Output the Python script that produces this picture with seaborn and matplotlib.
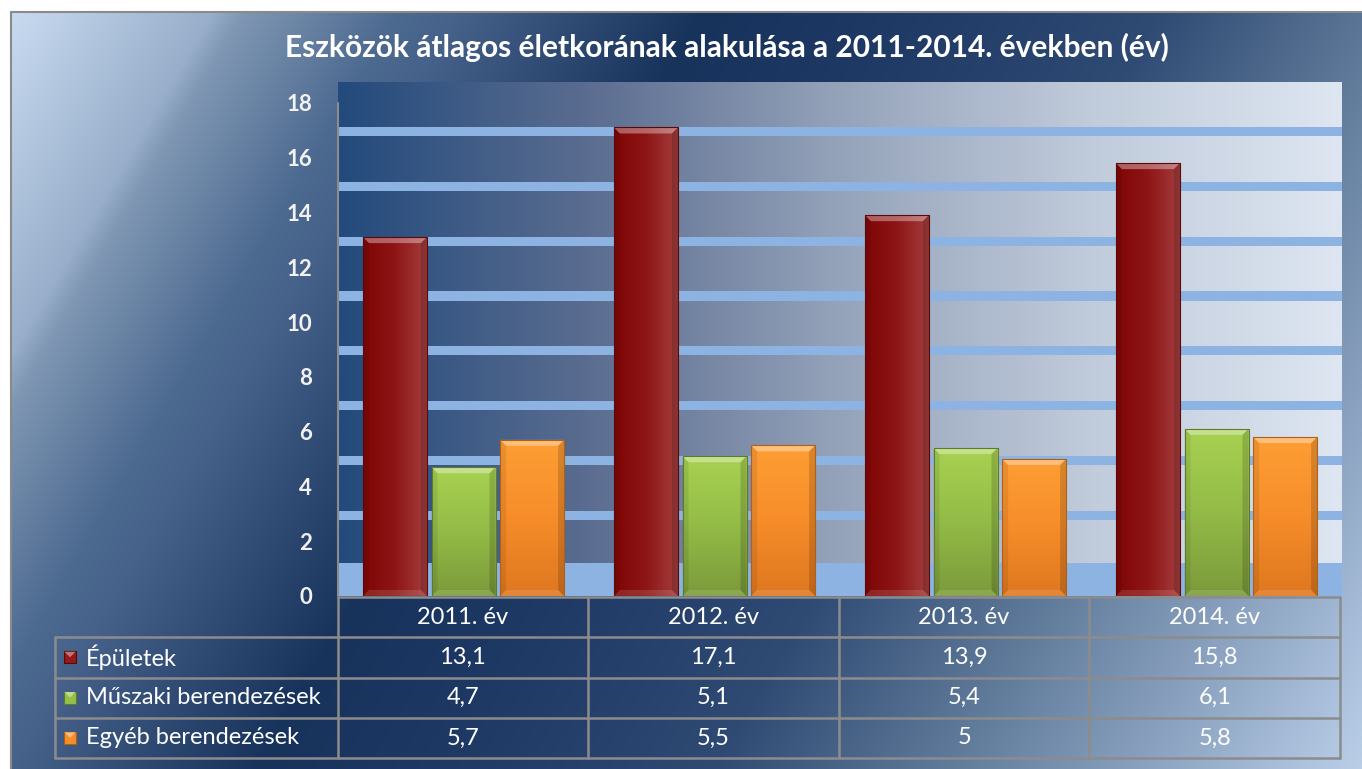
import numpy as np
import pandas as pd
import matplotlib
matplotlib.use("Agg")
import matplotlib.pyplot as plt
import seaborn as sns
from matplotlib.patches import Rectangle, Polygon
from matplotlib.colors import to_rgb

# ---------------- data ----------------
title = "Eszközök átlagos életkorának alakulása a 2011-2014. években (év)"
years = ["2011. év", "2012. év", "2013. év", "2014. év"]
series = ["Épületek", "Műszaki berendezések", "Egyéb berendezések"]
epuletek = [13.1, 17.1, 13.9, 15.8]
muszaki = [4.7, 5.1, 5.4, 6.1]
egyeb = [5.7, 5.5, 5.0, 5.8]
yticks = list(range(0, 19, 2))

values = [epuletek, muszaki, egyeb]
colors = {"Épületek": "#921a1a", "Műszaki berendezések": "#94bf48", "Egyéb berendezések": "#f58e2a"}

W, H = 1362, 769

sns.set_style("white")
plt.rcParams["font.family"] = ["Lato", "DejaVu Sans"]

fig = plt.figure(figsize=(W / 100, H / 100), dpi=100)
fig.patch.set_facecolor("white")

# ---------------- background gradient ----------------
bg = fig.add_axes([0, 0, 1, 1], zorder=-10)
bg.set_axis_off()
Yg, Xg = np.mgrid[0:H, 0:W] + 0.5
P = (680 * Xg + 400 * Yg) / 789.0
sp = [0, 190, 216, 350, 400, 613, 800, 1006, 1184, 1484, 1600]
sc = ["#cddff4", "#98aeca", "#7f97b3", "#4c6990", "#46628a", "#17325b",
      "#1f3b66", "#2f4b74", "#5a7595", "#a6bcd8", "#c4d7ef"]
img = np.stack([np.interp(P, sp, [to_rgb(c)[k] for c in sc]) for k in range(3)], axis=-1)
img[:11, :, :] = 1
img[:, :10, :] = 1
bg.imshow(img, extent=(0, W, H, 0), aspect="auto", interpolation="nearest")
bg.set_xlim(0, W)
bg.set_ylim(H, 0)
bg.plot([10.5, 10.5, W], [H, 11.5, 11.5], color="#8a8a8a", lw=1.5)

# ---------------- main bar chart ----------------
ytop = 18.76
ax = fig.add_axes([338 / W, 1 - 596 / H, (1342 - 338) / W, (596 - 82) / H])
df = pd.DataFrame({
    "year": years * len(series),
    "series": np.repeat(series, len(years)),
    "value": epuletek + muszaki + egyeb,
})
sns.barplot(data=df, x="year", y="value", hue="series", hue_order=series,
            palette=colors, width=0.82, saturation=1, legend=False,
            errorbar=None, ax=ax)
bars = list(ax.patches)

# plot-area gradient
pa_stops = [0, 0.25, 0.5, 0.75, 1.0]
pa_cols = ["#234a7c", "#5b6d90", "#95a3ba", "#c0cbdb", "#dde6f1"]
tt = np.linspace(0, 1, 512)
pa = np.stack([np.interp(tt, pa_stops, [to_rgb(c)[k] for c in pa_cols]) for k in range(3)], axis=-1)[None, :, :]
ax.imshow(pa, extent=(-0.5, len(years) - 0.5, 0, ytop), aspect="auto", zorder=0)

band = "#8db3e2"
ax.axhspan(0, 1.2, color=band, lw=0, zorder=1)
for t in yticks[1:]:
    ax.axhspan(t - 1.05 - 0.17, t - 1.05 + 0.17, color=band, lw=0, zorder=1)

grad_defs = {
    "Épületek": ("h", ["#800606", "#8e1515", "#a43e3e"], "#5a0808"),
    "Műszaki berendezések": ("v", ["#a8d251", "#93bb47", "#7b9a3a"], "#5e7a2e"),
    "Egyéb berendezések": ("v", ["#fe9e34", "#f68d2a", "#de771f"], "#b06016"),
}
bw = 64 / 251.0
bx = 6 / 251.0
by = 6 / 27.4

def find_series(p):
    fc = np.array(p.get_facecolor()[:3])
    return min(series, key=lambda s: np.sum((np.array(to_rgb(colors[s])) - fc) ** 2))

for p in bars:
    s = find_series(p)
    x0 = p.get_x() + (p.get_width() - bw) / 2
    p.set_x(x0)
    p.set_width(bw)
    h = p.get_height()
    x1 = x0 + bw
    kind, gc, edge = grad_defs[s]
    g = np.linspace(0, 1, 256)
    st = np.linspace(0, 1, len(gc))
    arr = np.stack([np.interp(g, st, [to_rgb(c)[k] for c in gc]) for k in range(3)], axis=-1)
    arr = arr[None, :, :] if kind == "h" else arr[:, None, :]
    im = ax.imshow(arr, extent=(x0, x1, 0, h), aspect="auto", zorder=3.1, interpolation="bilinear")
    im.set_clip_path(p)
    ax.add_patch(Polygon([(x0, h), (x1, h), (x1 - bx, h - by), (x0 + bx, h - by)],
                         closed=True, facecolor="white", alpha=0.35, lw=0, zorder=3.2))
    ax.add_patch(Polygon([(x0, 0), (x1, 0), (x1 - bx, by), (x0 + bx, by)],
                         closed=True, facecolor="white", alpha=0.12, lw=0, zorder=3.2))
    ax.add_patch(Polygon([(x0, 0), (x0, h), (x0 + bx, h - by), (x0 + bx, by)],
                         closed=True, facecolor="black", alpha=0.08, lw=0, zorder=3.2))
    ax.add_patch(Polygon([(x1, 0), (x1, h), (x1 - bx, h - by), (x1 - bx, by)],
                         closed=True, facecolor="black", alpha=0.15, lw=0, zorder=3.2))
    p.set_facecolor("none")
    p.set_edgecolor(edge)
    p.set_linewidth(0.8)
    p.set_zorder(3.3)

ax.set_xlim(-0.5, len(years) - 0.5)
ax.set_ylim(0, ytop)
ax.set_yticks(yticks)
ax.set_yticklabels([str(t) for t in yticks], fontweight="bold", color="#f2f2f2", fontsize=16)
ax.tick_params(axis="y", length=0, pad=18.5)
ax.set_xticks([])
ax.set_xlabel("")
ax.set_ylabel("")
ax.set_facecolor("none")
for sp_ in ax.spines.values():
    sp_.set_visible(False)
ax.plot([-0.5, -0.5], [0, 18], color="#8c8c8c", lw=1.5, clip_on=False, zorder=5)

# ---------------- data table ----------------
ncol = len(years)
lu = 283 / 251.0
left = -0.5 - lu
tax = fig.add_axes([55 / W, 1 - 758 / H, (1340 - 55) / W, (758 - 597) / H])
tax.set_xlim(left, ncol - 0.5)
tax.set_ylim(4, 0)
tax.set_axis_off()
lc = "#8c8c8c"
tax.plot([-0.5, ncol - 0.5], [0, 0], color=lc, lw=1.8, clip_on=False)
for r in range(1, 5):
    tax.plot([left, ncol - 0.5], [r, r], color=lc, lw=1.8, clip_on=False)
for c in range(ncol + 1):
    tax.plot([c - 0.5, c - 0.5], [0, 4], color=lc, lw=1.8, clip_on=False)
tax.plot([left, left], [1, 4], color=lc, lw=1.8, clip_on=False)

fs = 17
for i, y in enumerate(years):
    tax.text(i, 0.5, y, ha="center", va="center", color="white", fontsize=fs)

kw = 12 / 251.0
for j, s in enumerate(series):
    yc = j + 1.5
    kx = left + 9 / 251.0
    base = colors[s]
    tax.add_patch(Rectangle((kx, yc - 0.15), kw, 0.3, facecolor=base,
                            edgecolor=grad_defs[s][2], lw=0.8, clip_on=False))
    light = tuple(min(1, v * 0.6 + 0.4) for v in to_rgb(base))
    tax.add_patch(Polygon([(kx + 0.002, yc - 0.14), (kx + kw - 0.002, yc - 0.14), (kx + kw / 2, yc)],
                          closed=True, facecolor=light, lw=0, clip_on=False))
    tax.text(left + 31 / 251.0, yc, s, ha="left", va="center", color="white", fontsize=fs)
    for i, v in enumerate(values[j]):
        tax.text(i, yc, f"{v:g}".replace(".", ","), ha="center", va="center",
                 color="white", fontsize=fs)

fig.text(727 / W, 1 - 47 / H, title, ha="center", va="center", color="white",
         fontsize=21.5, fontweight="bold")

fig.savefig("out.png", dpi=100)
